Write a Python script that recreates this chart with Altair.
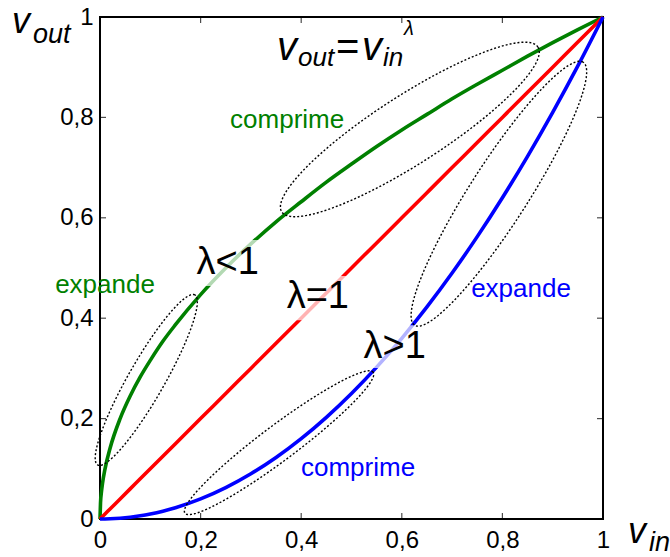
import altair as alt
import pandas as pd
import numpy as np

# ---- data ----
v_in = [0, 0.001, 0.003, 0.005, 0.01, 0.02, 0.04, 0.06, 0.08, 0.1, 0.125, 0.15, 0.2, 0.25, 0.3, 0.35,
        0.4, 0.45, 0.5, 0.55, 0.6, 0.65, 0.7, 0.75, 0.8, 0.85, 0.9, 0.95, 1.0]
out_lt1 = [0, 0.032, 0.055, 0.071, 0.1, 0.141, 0.2, 0.245, 0.283, 0.316, 0.354, 0.387, 0.447, 0.5,
           0.548, 0.592, 0.632, 0.671, 0.707, 0.742, 0.775, 0.806, 0.837, 0.866, 0.894, 0.922,
           0.949, 0.975, 1.0]
out_eq1 = [0, 0.001, 0.003, 0.005, 0.01, 0.02, 0.04, 0.06, 0.08, 0.1, 0.125, 0.15, 0.2, 0.25, 0.3,
           0.35, 0.4, 0.45, 0.5, 0.55, 0.6, 0.65, 0.7, 0.75, 0.8, 0.85, 0.9, 0.95, 1.0]
out_gt1 = [0, 0.0, 0.00001, 0.00003, 0.0001, 0.0004, 0.0016, 0.0036, 0.0064, 0.01, 0.0156, 0.0225,
           0.04, 0.0625, 0.09, 0.1225, 0.16, 0.2025, 0.25, 0.3025, 0.36, 0.4225, 0.49, 0.5625,
           0.64, 0.7225, 0.81, 0.9025, 1.0]
series_names = ["lt1", "eq1", "gt1"]
series_colors = ["#008000", "#ff0000", "#0000ff"]

tick_values = [0, 0.2, 0.4, 0.6, 0.8, 1.0]
inner_ticks = [0.2, 0.4, 0.6, 0.8]

# dotted ellipses (annotation outlines)
ell_cx = [0.092, 0.616, 0.793, 0.356]
ell_cy = [0.277, 0.776, 0.648, 0.152]
ell_a = [0.195, 0.303, 0.311, 0.234]
ell_b = [0.036, 0.068, 0.058, 0.035]
ell_ang = [60.3, 32.8, 57.4, 36.9]

# light boxes behind the lambda labels
box_x1 = [0.183, 0.362, 0.517]
box_x2 = [0.330, 0.507, 0.656]
box_y1 = [0.464, 0.396, 0.301]
box_y2 = [0.556, 0.484, 0.386]

W, H = 503, 502
FONT = "Liberation Sans"

rows = []
for name, ys in zip(series_names, [out_lt1, out_eq1, out_gt1]):
    for xv, yv in zip(v_in, ys):
        rows.append({"x": xv, "y": yv, "s": name})
curves_df = pd.DataFrame(rows)

ell_rows = []
t = np.linspace(0, 2 * np.pi, 181)
for i in range(len(ell_cx)):
    th = np.deg2rad(ell_ang[i])
    ex = ell_cx[i] + ell_a[i] * np.cos(t) * np.cos(th) - ell_b[i] * np.sin(t) * np.sin(th)
    ey = ell_cy[i] + ell_a[i] * np.cos(t) * np.sin(th) + ell_b[i] * np.sin(t) * np.cos(th)
    for k, (a, b) in enumerate(zip(ex, ey)):
        ell_rows.append({"x": float(a), "y": float(b), "id": i, "o": k})
ell_df = pd.DataFrame(ell_rows)

box_df = pd.DataFrame({"x": box_x1, "x2": box_x2, "y": box_y1, "y2": box_y2})

xs = alt.Scale(domain=[0, 1], nice=False, zero=False)
ys_ = alt.Scale(domain=[0, 1], nice=False, zero=False)
label_expr = "replace(format(datum.value, '.1~f'), '.', ',')"

X_AX = alt.Axis(values=tick_values, labelExpr=label_expr, title=None, grid=False, ticks=False,
                domain=False, labelFontSize=24, labelFont=FONT, labelColor="black",
                labelPadding=9, labelFlush=False)
Y_AX = alt.Axis(values=tick_values, labelExpr=label_expr, title=None, grid=False, ticks=False,
                domain=False, labelFontSize=24, labelFont=FONT, labelColor="black",
                labelPadding=7, labelFlush=False)


def X(field):
    return alt.X(field, scale=xs, axis=X_AX)


def Y(field):
    return alt.Y(field, scale=ys_, axis=Y_AX)


curves = alt.Chart(curves_df).mark_line(strokeWidth=3.6, interpolate="monotone").encode(
    x=X("x:Q"), y=Y("y:Q"),
    color=alt.Color("s:N", scale=alt.Scale(domain=series_names, range=series_colors), legend=None),
    detail="s:N",
)

boxes = alt.Chart(box_df).mark_rect(fill="white", opacity=0.7).encode(
    x=X("x:Q"), x2="x2:Q", y=Y("y:Q"), y2="y2:Q",
)

ellipses = alt.Chart(ell_df).mark_line(color="black", strokeWidth=1.4, strokeDash=[2, 2],
                                       clip=False).encode(
    x=X("x:Q"), y=Y("y:Q"), detail="id:N", order="o:Q",
)

tdf = pd.DataFrame({"t": inner_ticks})
ticks_b = alt.Chart(tdf).mark_tick(orient="vertical", size=6, thickness=1.2, color="black").encode(
    x=X("t:Q"), y=alt.value(H - 3))
ticks_t = alt.Chart(tdf).mark_tick(orient="vertical", size=6, thickness=1.2, color="black").encode(
    x=X("t:Q"), y=alt.value(3))
ticks_l = alt.Chart(tdf).mark_tick(orient="horizontal", size=6, thickness=1.2, color="black").encode(
    y=Y("t:Q"), x=alt.value(3))
ticks_r = alt.Chart(tdf).mark_tick(orient="horizontal", size=6, thickness=1.2, color="black").encode(
    y=Y("t:Q"), x=alt.value(W - 3))


def dtext(text, x, y, size, color="black", italic=False, align="center", baseline="alphabetic"):
    d = pd.DataFrame({"x": [x], "y": [y], "label": [text]})
    kw = dict(fontSize=size, color=color, font=FONT, align=align, baseline=baseline, clip=False)
    if italic:
        kw["fontStyle"] = "italic"
    return alt.Chart(d).mark_text(**kw).encode(x=X("x:Q"), y=Y("y:Q"), text="label:N")


def ptext(text, px, py, size, italic=True, align="left", baseline="alphabetic"):
    d = pd.DataFrame({"label": [text]})
    kw = dict(fontSize=size, color="black", font=FONT, align=align, baseline=baseline, clip=False)
    if italic:
        kw["fontStyle"] = "italic"
    return alt.Chart(d).mark_text(**kw).encode(x=alt.value(px), y=alt.value(py), text="label:N")


texts = [
    dtext("comprime", 0.372, 0.779, 26, "#008000"),
    dtext("expande", 0.01, 0.450, 26, "#008000"),
    dtext("expande", 0.837, 0.442, 26, "#0000ff"),
    dtext("comprime", 0.513, 0.086, 26, "#0000ff"),
    dtext("λ<1", 0.254, 0.510, 38, baseline="middle"),
    dtext("λ=1", 0.433, 0.442, 38, baseline="middle"),
    dtext("λ>1", 0.586, 0.343, 38, baseline="middle"),
    # title formula
    ptext("v", 177, 43, 40),
    ptext("out", 198, 49, 26),
    ptext("=", 236, 43, 40, italic=False),
    ptext("v", 262, 43, 40),
    ptext("in", 283, 49, 26),
    ptext("λ", 304, 18, 20),
    # axis titles
    ptext("v", -88, 16, 36),
    ptext("out", -67, 26, 27),
    ptext("v", 528, 526, 36),
    ptext("in", 549, 534, 27),
]

chart = alt.layer(curves, boxes, ellipses, ticks_b, ticks_t, ticks_l, ticks_r, *texts).properties(
    width=W, height=H,
    autosize=alt.AutoSizeParams(type="none"),
    padding={"left": 100, "top": 17, "right": 67, "bottom": 38},
).configure(background="white").configure_view(stroke="black", strokeWidth=2)

chart.save("out.html", embed_options={"renderer": "svg", "actions": False})
